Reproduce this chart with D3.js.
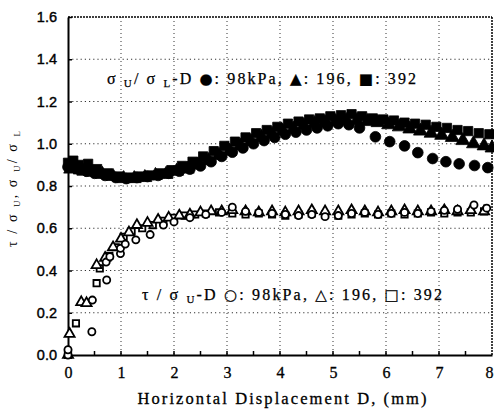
<!DOCTYPE html>
<html>
<head>
<meta charset="utf-8">
<script src="https://cdn.jsdelivr.net/npm/d3@7"></script>
<style>
  body { margin: 0; background: #fff; }
</style>
</head>
<body>
<div id="chart"></div>
<script>
// axis ticks
var xTicks = [0, 1, 2, 3, 4, 5, 6, 7, 8];
var xMinorTicks = [0.5, 1, 1.5, 2, 2.5, 3, 3.5, 4, 4.5, 5, 5.5, 6, 6.5, 7, 7.5];
var yTicks = [0, 0.2, 0.4, 0.6, 0.8, 1.0, 1.2, 1.4, 1.6];

// sigmaU / sigmaL - D  (filled markers)
var ratio98X = [0, 0.1, 0.2, 0.35, 0.5, 0.7, 0.9, 1.1, 1.3, 1.5, 1.7, 1.9, 2.1, 2.3, 2.5, 2.7, 2.9, 3.1, 3.3, 3.5, 3.7, 3.9, 4.1, 4.3, 4.5, 4.7, 4.9, 5.1, 5.3, 5.5, 5.8, 6.07, 6.35, 6.6, 6.88, 7.13, 7.38, 7.67, 7.92];
var ratio98Y = [0.89, 0.9, 0.88, 0.87, 0.86, 0.85, 0.84, 0.835, 0.84, 0.845, 0.85, 0.86, 0.87, 0.88, 0.895, 0.915, 0.94, 0.96, 0.98, 1.0, 1.015, 1.03, 1.045, 1.055, 1.065, 1.075, 1.085, 1.095, 1.09, 1.075, 1.033, 1.01, 0.99, 0.958, 0.93, 0.915, 0.905, 0.897, 0.887];

var ratio196X = [0.05, 0.23, 0.3, 0.45, 0.65, 0.85, 1.05, 1.25, 1.45, 1.65, 1.85, 2.05, 2.25, 2.45, 2.65, 2.85, 3.05, 3.25, 3.45, 3.65, 3.85, 4.05, 4.25, 4.45, 4.65, 4.85, 5.05, 5.25, 5.45, 5.65, 5.85, 6.05, 6.25, 6.45, 6.65, 6.85, 7.05, 7.25, 7.45, 7.65, 7.85, 8.0];
var ratio196Y = [0.88, 0.876, 0.87, 0.865, 0.855, 0.845, 0.835, 0.835, 0.84, 0.85, 0.855, 0.87, 0.88, 0.9, 0.92, 0.945, 0.965, 0.99, 1.01, 1.03, 1.045, 1.06, 1.07, 1.085, 1.095, 1.1, 1.105, 1.11, 1.11, 1.105, 1.1, 1.09, 1.08, 1.07, 1.06, 1.05, 1.04, 1.03, 1.015, 1.0, 0.99, 0.98];

var ratio392X = [0, 0.1, 0.2, 0.38, 0.55, 0.75, 0.95, 1.15, 1.35, 1.55, 1.75, 1.95, 2.15, 2.35, 2.55, 2.75, 2.95, 3.15, 3.35, 3.55, 3.75, 3.95, 4.15, 4.35, 4.55, 4.75, 4.95, 5.15, 5.35, 5.55, 5.75, 5.95, 6.15, 6.35, 6.55, 6.75, 6.95, 7.15, 7.35, 7.55, 7.75, 7.95];
var ratio392Y = [0.91, 0.92, 0.9, 0.905, 0.88, 0.86, 0.845, 0.84, 0.845, 0.85, 0.86, 0.875, 0.895, 0.915, 0.94, 0.965, 0.99, 1.01, 1.03, 1.05, 1.065, 1.08, 1.095, 1.105, 1.115, 1.12, 1.13, 1.135, 1.14, 1.13, 1.12, 1.115, 1.11, 1.1, 1.095, 1.09, 1.08, 1.075, 1.065, 1.06, 1.05, 1.045];

// tau / sigmaU - D  (open markers)
var tau98X = [0, 0, 0.45, 0.46, 0.73, 0.72, 0.79, 0.99, 0.99, 1.08, 1.28, 1.55, 1.8, 2.0, 2.3, 2.6, 2.9, 3.1, 3.35, 3.6, 3.85, 4.1, 4.35, 4.6, 4.85, 5.1, 5.35, 5.6, 5.85, 6.1, 6.35, 6.6, 6.85, 7.1, 7.35, 7.66, 7.9];
var tau98Y = [0.0, 0.025, 0.11, 0.26, 0.355, 0.44, 0.465, 0.48, 0.505, 0.525, 0.545, 0.57, 0.615, 0.63, 0.65, 0.665, 0.675, 0.7, 0.68, 0.675, 0.67, 0.665, 0.66, 0.665, 0.655, 0.66, 0.67, 0.675, 0.665, 0.67, 0.675, 0.67, 0.68, 0.685, 0.69, 0.71, 0.695];

var tau196X = [0, 0.03, 0.25, 0.35, 0.54, 0.7, 0.85, 1.0, 1.15, 1.3, 1.5, 1.7, 1.9, 2.1, 2.3, 2.5, 2.7, 2.9, 3.1, 3.35, 3.6, 3.85, 4.1, 4.35, 4.6, 4.85, 5.1, 5.35, 5.6, 5.85, 6.1, 6.35, 6.6, 6.85, 7.1, 7.35, 7.6, 7.85];
var tau196Y = [0.0, 0.1, 0.25, 0.245, 0.425, 0.46, 0.51, 0.55, 0.58, 0.615, 0.625, 0.64, 0.65, 0.66, 0.665, 0.675, 0.68, 0.68, 0.685, 0.68, 0.675, 0.68, 0.675, 0.68, 0.685, 0.68, 0.68, 0.685, 0.68, 0.675, 0.68, 0.685, 0.68, 0.68, 0.685, 0.68, 0.685, 0.68];

var tau392X = [0, 0, 0.15, 0.54, 0.6, 0.78, 0.9, 1.05, 1.2, 1.4, 1.6, 1.8, 2.0, 2.2, 2.4, 2.6, 2.85, 3.1, 3.35, 3.6, 3.85, 4.1, 4.35, 4.6, 4.85, 5.1, 5.35, 5.6, 5.85, 6.1, 6.35, 6.6, 6.85, 7.1, 7.35, 7.6, 7.85];
var tau392Y = [0.0, 0.01, 0.15, 0.34, 0.41, 0.47, 0.51, 0.56, 0.585, 0.6, 0.615, 0.635, 0.65, 0.66, 0.665, 0.67, 0.675, 0.67, 0.665, 0.67, 0.665, 0.66, 0.665, 0.67, 0.665, 0.66, 0.665, 0.67, 0.665, 0.67, 0.665, 0.67, 0.675, 0.67, 0.675, 0.675, 0.68];

var width = 494;
var height = 410;
var margin = { top: 17, left: 68, bottom: 55, right: 2 };
var plotW = width - margin.left - margin.right;
var plotH = height - margin.top - margin.bottom;

var xScale = d3.scaleLinear().domain([0, 8]).range([0, plotW]);
var yScale = d3.scaleLinear().domain([0, 1.6]).range([plotH, 0]);

var svg = d3.select("#chart").append("svg")
   .attr("width", width)
   .attr("height", height)
   .style("font-family", "'Liberation Serif', 'Times New Roman', serif");

var focus = svg.append("g")
   .attr("transform", "translate(" + margin.left + "," + margin.top + ")");

// dotted grid
focus.append("g")
   .selectAll("line")
   .data(xTicks.slice(1, -1))
   .enter().append("line")
   .attr("x1", function (d) { return xScale(d); })
   .attr("x2", function (d) { return xScale(d); })
   .attr("y1", 0).attr("y2", plotH)
   .attr("stroke", "#333").attr("stroke-width", 1)
   .attr("stroke-dasharray", "1,3");

focus.append("g")
   .selectAll("line")
   .data(yTicks.slice(1, -1))
   .enter().append("line")
   .attr("x1", 0).attr("x2", plotW)
   .attr("y1", function (d) { return yScale(d); })
   .attr("y2", function (d) { return yScale(d); })
   .attr("stroke", "#333").attr("stroke-width", 1.2)
   .attr("stroke-dasharray", "1.2,3");

// top and right border (dashed)
focus.append("line")
   .attr("x1", 0).attr("x2", plotW)
   .attr("y1", yScale(1.6)).attr("y2", yScale(1.6))
   .attr("stroke", "#000").attr("stroke-width", 1.5)
   .attr("stroke-dasharray", "2,1");
focus.append("line")
   .attr("x1", xScale(8)).attr("x2", xScale(8))
   .attr("y1", 0).attr("y2", plotH)
   .attr("stroke", "#000").attr("stroke-width", 1.5)
   .attr("stroke-dasharray", "2,1");

// X axis
var xAxis = d3.axisBottom(xScale).tickValues(xTicks).tickSize(0).tickPadding(12)
   .tickFormat(d3.format("d"));
var gX = focus.append("g")
   .attr("transform", "translate(0," + plotH + ")")
   .call(xAxis);
gX.select(".domain").attr("stroke-width", 2);
gX.selectAll("text")
   .style("font-family", "'Liberation Serif', serif")
   .style("font-size", "16px")
   .attr("stroke", "#000").attr("stroke-width", 0.3);
// keep the last label inside the picture
gX.selectAll(".tick").filter(function (d) { return d === 8; })
   .select("text").attr("dx", -3);

// minor ticks pointing up
focus.append("g")
   .selectAll("line")
   .data(xMinorTicks)
   .enter().append("line")
   .attr("x1", function (d) { return xScale(d); })
   .attr("x2", function (d) { return xScale(d); })
   .attr("y1", plotH).attr("y2", plotH - 4)
   .attr("stroke", "#000").attr("stroke-width", 1.5);

// Y axis
var yAxis = d3.axisLeft(yScale).tickValues(yTicks).tickSizeInner(-4).tickSizeOuter(0)
   .tickPadding(11).tickFormat(d3.format(".1f"));
var gY = focus.append("g").call(yAxis);
gY.select(".domain").attr("stroke-width", 2);
gY.selectAll(".tick line").attr("stroke-width", 1.5);
gY.selectAll("text")
   .style("font-family", "'Liberation Sans', Arial, sans-serif")
   .style("font-size", "14.5px")
   .attr("stroke", "#000").attr("stroke-width", 0.4);

// markers
function zip(xs, ys) {
   return xs.map(function (x, i) { return { x: x, y: ys[i] }; });
}

var series = [
   { data: zip(ratio98X, ratio98Y), type: d3.symbolCircle, size: 90, fill: "#000" },
   { data: zip(ratio196X, ratio196Y), type: d3.symbolTriangle, size: 84, fill: "#000" },
   { data: zip(ratio392X, ratio392Y), type: d3.symbolSquare, size: 86, fill: "#000" },
   { data: zip(tau392X, tau392Y), type: d3.symbolSquare, size: 40, fill: "#fff" },
   { data: zip(tau196X, tau196Y), type: d3.symbolTriangle, size: 44, fill: "#fff" },
   { data: zip(tau98X, tau98Y), type: d3.symbolCircle, size: 40, fill: "#fff" }
];

series.forEach(function (s) {
   var sym = d3.symbol().type(s.type).size(s.size);
   focus.append("g")
      .selectAll("path")
      .data(s.data)
      .enter().append("path")
      .attr("d", sym)
      .attr("transform", function (d) {
         return "translate(" + xScale(d.x) + "," + yScale(d.y) + ")";
      })
      .attr("fill", s.fill)
      .attr("stroke", "#000")
      .attr("stroke-width", s.fill === "#000" ? 0.8 : 1.8);
});

// legends
function legend(parts, x, y, len) {
   var t = svg.append("text")
      .attr("x", x).attr("y", y)
      .attr("textLength", len)
      .attr("lengthAdjust", "spacing")
      .attr("stroke", "#000").attr("stroke-width", 0.25)
      .style("font-size", "16px");
   parts.forEach(function (p) {
      var ts = t.append("tspan").text(p.t);
      if (p.sub) ts.style("font-size", "11px").attr("dy", 3);
      if (p.up) ts.attr("dy", -3);
      if (p.sym) ts.style("font-family", "'DejaVu Sans', sans-serif").style("font-size", "15px");
   });
   return t;
}

legend([
   { t: "σ " }, { t: "U", sub: true }, { t: "/ σ ", up: true }, { t: "L", sub: true },
   { t: "-D ", up: true }, { t: "●", sym: true }, { t: ": 98kPa, " },
   { t: "▲", sym: true }, { t: ": 196, " }, { t: "■", sym: true }, { t: ": 392" }
], 107, 84, 309);

legend([
   { t: "τ / σ " }, { t: "U", sub: true }, { t: "-D ", up: true },
   { t: "○", sym: true }, { t: ": 98kPa, " },
   { t: "△", sym: true }, { t: ": 196, " }, { t: "□", sym: true }, { t: ": 392" }
], 142, 300, 300);

// axis titles
svg.append("text")
   .attr("x", 282).attr("y", 404)
   .attr("text-anchor", "middle")
   .attr("textLength", 289)
   .attr("lengthAdjust", "spacing")
   .attr("stroke", "#000").attr("stroke-width", 0.3)
   .style("font-size", "16.5px")
   .text("Horizontal Displacement  D, (mm)");

var yt = svg.append("text")
   .attr("transform", "translate(17,189) rotate(-90)")
   .attr("text-anchor", "middle")
   .attr("textLength", 116)
   .attr("lengthAdjust", "spacing")
   .style("font-size", "14px");
yt.append("tspan").text("τ / σ ");
yt.append("tspan").text("U").style("font-size", "9px").attr("dy", 3);
yt.append("tspan").text(", σ ").attr("dy", -3);
yt.append("tspan").text("U").style("font-size", "9px").attr("dy", 3);
yt.append("tspan").text("/ σ ").attr("dy", -3);
yt.append("tspan").text("L").style("font-size", "9px").attr("dy", 3);
</script>
</body>
</html>
